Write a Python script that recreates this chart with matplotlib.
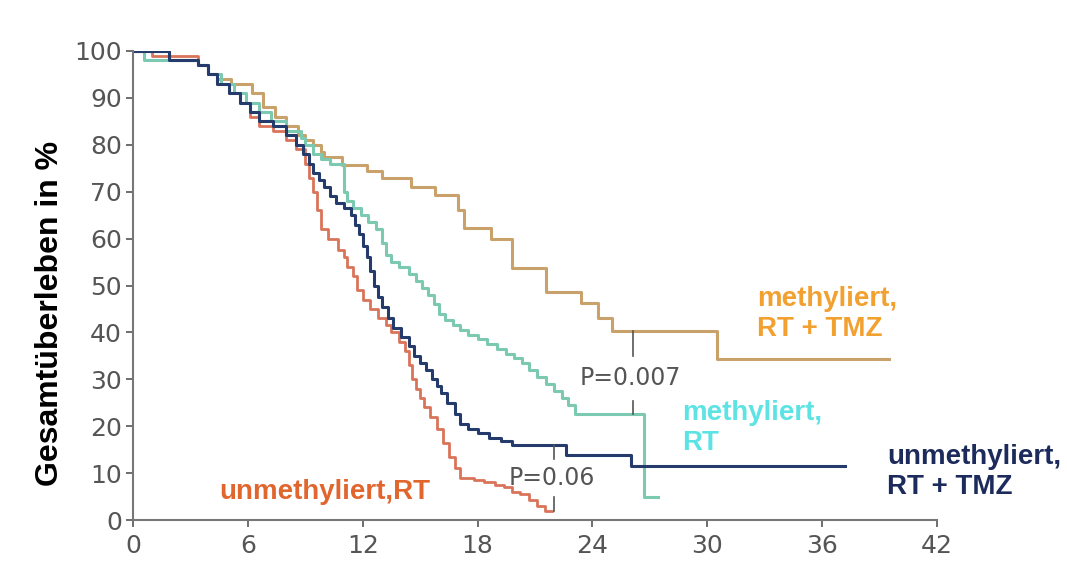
import matplotlib
matplotlib.use("Agg")
import matplotlib.pyplot as plt

# ---- data ----
# methyliert, RT + TMZ
t_met_tmz = [0, 1.9, 3.4, 3.9, 4.4, 5.1, 6.2, 6.8, 7.4, 8.0, 8.6, 9.0, 9.4, 9.8,
             10.0, 10.9, 12.2, 13.0, 14.5, 15.8, 17.0, 17.3, 18.7, 19.8, 21.6,
             23.4, 24.3, 25.0, 30.5, 39.5]
s_met_tmz = [100, 98, 97, 95, 94, 93, 91, 88, 86, 84, 82, 81, 80, 78.5,
             77.5, 75.7, 74.5, 73, 71, 69.3, 66, 62.3, 60, 53.7, 48.6,
             46.3, 43, 40.3, 34.3, 34.3]

# methyliert, RT
t_met_rt = [0, 0.6, 3.4, 3.9, 4.6, 5.3, 5.9, 6.6, 7.2, 8.0, 8.8, 9.0, 9.4, 9.8,
            10.3, 11.0, 11.2, 11.5, 11.9, 12.3, 12.7, 13.0, 13.2, 13.5, 13.9,
            14.4, 14.8, 15.1, 15.4, 15.7, 16.0, 16.3, 16.7, 17.1, 17.5, 18.0,
            18.5, 19.0, 19.5, 19.9, 20.3, 20.7, 21.1, 21.6, 22.0, 22.4, 22.7,
            23.1, 26.7, 27.4]
s_met_rt = [100, 98, 97, 95, 93, 91, 89, 87, 85, 83, 81.5, 80, 78, 77,
            76, 70, 68, 66.5, 65, 63.5, 62, 59, 56.5, 55, 54,
            52.5, 51, 49.5, 48, 46, 44, 42.6, 41.5, 40.5, 39.5, 38.5,
            37.5, 36.5, 35.5, 34.5, 33.5, 32, 30.5, 29, 27.5, 26, 24.5,
            22.6, 5, 5]

# unmethyliert, RT + TMZ
t_unm_tmz = [0, 1.9, 3.4, 3.9, 4.4, 5.0, 5.6, 6.1, 6.6, 7.3, 8.0, 8.5, 8.9, 9.2,
             9.4, 9.7, 10.0, 10.3, 10.6, 11.0, 11.4, 11.6, 11.8, 12.0, 12.2,
             12.4, 12.6, 12.8, 13.0, 13.3, 13.6, 14.0, 14.4, 14.7, 15.0, 15.3,
             15.6, 15.9, 16.1, 16.4, 16.8, 17.1, 17.5, 18.0, 18.6, 19.2, 19.8,
             22.6, 26.0, 37.2]
s_unm_tmz = [100, 98, 97, 95, 93, 91, 89, 87, 85, 84, 82, 80, 78, 76,
             74, 72.5, 71, 69, 67.6, 66.5, 65, 63, 61, 58.5, 56,
             53, 50, 47.5, 45.5, 43, 41, 39, 37, 35, 33.5, 32,
             30, 28.5, 27, 25, 22.5, 20.5, 19.5, 18.5, 17.5, 16.8, 16,
             13.9, 11.5, 11.5]

# unmethyliert, RT
t_unm_rt = [0, 1.0, 3.4, 3.9, 4.4, 5.0, 5.6, 6.1, 6.6, 7.3, 8.0, 8.5, 9.0, 9.2,
            9.4, 9.6, 9.8, 10.2, 10.7, 11.0, 11.2, 11.5, 11.7, 12.0, 12.4,
            12.8, 13.2, 13.5, 13.9, 14.2, 14.4, 14.6, 14.8, 15.0, 15.2, 15.5,
            15.9, 16.2, 16.5, 16.8, 17.1, 17.8, 18.35, 18.9, 19.4, 19.8, 20.2,
            20.7, 21.1, 21.5, 21.9]
s_unm_rt = [100, 99, 97, 95, 93, 91, 89, 86, 84, 83, 81, 79, 76, 73,
            70, 66, 62, 60, 57.6, 56, 54, 52, 49, 47, 45,
            43, 41.5, 40, 38, 36, 33, 30, 28, 26, 24, 22,
            19.5, 16.5, 13.4, 11, 9, 8.5, 8, 7.5, 7, 6, 5.5,
            4.3, 3, 2, 2]

x_ticks = [0, 6, 12, 18, 24, 30, 36, 42]
y_ticks = [0, 10, 20, 30, 40, 50, 60, 70, 80, 90, 100]

# p-value annotations: (x, y_low, y_high, text_y, label)
p_tmz = (26.1, 22.6, 40.3, 30.2, "P=0.007")
p_rt = (22.0, 2.0, 16.0, 9.0, "P=0.06")

# ---- figure ----
fig = plt.figure(figsize=(10.67, 5.69), dpi=100)
ax = fig.add_axes([133 / 1067, 1 - 520 / 569, (937 - 133) / 1067, (520 - 51) / 569])

c_met_tmz = "#c9a26b"
c_met_rt = "#7cc9b2"
c_unm_tmz = "#243b6b"
c_unm_rt = "#d9735a"

ax.step(t_met_tmz, s_met_tmz, where="post", color=c_met_tmz, lw=2.2)
ax.step(t_met_rt, s_met_rt, where="post", color=c_met_rt, lw=2.2)
ax.step(t_unm_rt, s_unm_rt, where="post", color=c_unm_rt, lw=2.0)
ax.step(t_unm_tmz, s_unm_tmz, where="post", color=c_unm_tmz, lw=2.2)

# p-value markers
for (px, lo, hi, ty, lab), gap in ((p_tmz, 4.8), (p_rt, 4.0)):
    ax.plot([px, px], [lo, ty - gap], color="#555555", lw=1.2)
    ax.plot([px, px], [ty + gap, hi], color="#555555", lw=1.2)
    ax.text(px - 0.1, ty, lab, ha="center", va="center", fontsize=17,
            color="#555555", family="DejaVu Sans")

ax.set_xlim(0, 42)
ax.set_ylim(0, 100)
ax.set_xticks(x_ticks)
ax.set_yticks(y_ticks)
for s in ("top", "right"):
    ax.spines[s].set_visible(False)
for s in ("left", "bottom"):
    ax.spines[s].set_color("#777777")
    ax.spines[s].set_linewidth(1.5)
ax.tick_params(colors="#555555", labelsize=18, length=5, width=1.2)
ax.tick_params(axis="x", pad=5)
ax.tick_params(axis="y", pad=3)
ax.set_ylabel("Gesamtüberleben in %", fontsize=23, fontweight="bold",
              family="Liberation Sans")
ax.yaxis.set_label_coords(-0.085, 0.44)

lab_font = dict(fontsize=20, fontweight="bold", family="Liberation Sans",
                linespacing=1.2, va="center", ha="left")
ax.text(32.6, 44.0, "methyliert,\nRT + TMZ", color="#f2a030", **lab_font)
ax.text(28.7, 19.7, "methyliert,\nRT", color="#5de3e3", **lab_font)
ax.text(39.4, 10.2, "unmethyliert,\nRT + TMZ", color="#1c2a5c", **lab_font)
ax.text(4.5, 6.0, "unmethyliert,RT", color="#e0662e", **lab_font)

fig.savefig("out.png", dpi=100, facecolor="white")
